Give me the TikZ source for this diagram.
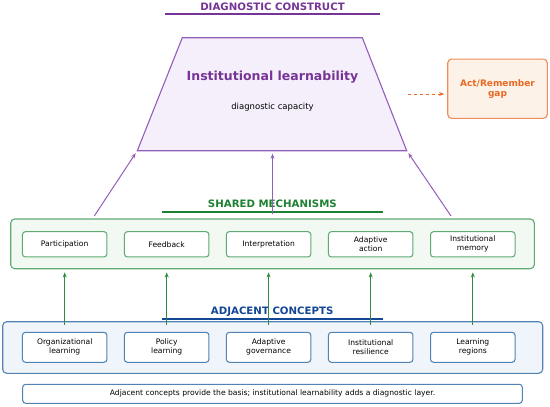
\documentclass[tikz,border=0pt]{standalone}
\usepackage{fontspec}
\setmainfont{DejaVu Sans}
\usetikzlibrary{arrows.meta,calc}
\definecolor{pur}{RGB}{118,52,150}
\definecolor{purline}{RGB}{145,95,185}
\definecolor{purfill}{RGB}{245,238,251}
\definecolor{grn}{RGB}{30,128,50}
\definecolor{grnline}{RGB}{95,170,115}
\definecolor{grnfill}{RGB}{241,249,242}
\definecolor{grnarrow}{RGB}{45,140,65}
\definecolor{blu}{RGB}{20,70,150}
\definecolor{bluline}{RGB}{80,130,180}
\definecolor{blufill}{RGB}{240,245,251}
\definecolor{org}{RGB}{232,105,35}
\definecolor{orgline}{RGB}{240,140,90}
\definecolor{orgfill}{RGB}{253,242,232}
\begin{document}
\begin{tikzpicture}[x=1pt,y=-1pt,
  titletext/.style={font=\fontsize{10.2}{12}\selectfont\bfseries, inner sep=0pt},
  uline/.style={line width=1.6pt},
  panel/.style={draw, rounded corners=4pt, line width=1.1pt, inner sep=0pt},
  item/.style={draw, rounded corners=3pt, minimum width=84.5pt, fill=white, align=center,
    font=\fontsize{7.6}{9}\selectfont, line width=1.05pt, inner sep=0pt},
  mech/.style={item, draw=grnline, minimum height=25.3pt},
  adj/.style={item, draw=bluline, minimum height=30pt},
  tip/.style={-{Stealth[length=5pt,width=4pt]}},
  parrow/.style={tip, draw=purline, line width=1pt, shorten >=3pt},
  garrow/.style={tip, draw=grnarrow, line width=1pt},
]
\useasboundingbox (0,0) rectangle (550,407);

% ---- Diagnostic construct
\node[titletext, text=pur] (t1) at (272.5,6.5) {DIAGNOSTIC CONSTRUCT};
\draw[uline, draw=pur] (165,13.7) -- (380,13.7);

\coordinate (tl) at (182.3,37.7);
\coordinate (tr) at (362.3,37.7);
\coordinate (br) at (406.7,150.7);
\coordinate (bl) at (137.3,150.7);
\coordinate (bm) at (272.5,150.7);
\draw[draw=purline, fill=purfill, line width=1.1pt] (tl) -- (tr) -- (br) -- (bl) -- cycle;
\node[font=\fontsize{12.5}{15}\selectfont\bfseries, text=pur] (il) at (272.5,76.7) {Institutional learnability};
\node[font=\fontsize{8.5}{10}\selectfont] (dc) at (272.5,107) {diagnostic capacity};

\node[draw=orgline, fill=orgfill, rounded corners=4pt, line width=1.1pt, minimum width=99.6pt,
  minimum height=59.3pt, align=center, text=org, font=\fontsize{9}{10}\selectfont\bfseries,
  inner sep=0pt] (gap) at (497.5,88.7) {Act/Remember\\gap};
\coordinate (d0) at (408,94);
\draw[tip, draw=org, dashed, line width=1pt, shorten >=3pt] (d0) -- (d0 -| gap.west);

% ---- Shared mechanisms
\node[titletext, text=grn] (t2) at (272.4,204) {SHARED MECHANISMS};
\draw[uline, draw=grn] (162,211.7) -- (383,211.7);
\node[panel, draw=grnline, fill=grnfill, minimum width=523.6pt, minimum height=49.7pt] (gp) at (272.5,243.85) {};

\node[mech] (m1) at (64.7,244.3) {Participation};
\node[mech] (m2) at (166.7,244.3) {Feedback};
\node[mech] (m3) at (268.6,244.3) {Interpretation};
\node[mech] (m4) at (370.7,244.3) {Adaptive\\action};
\node[mech] (m5) at (472.8,244.3) {Institutional\\memory};

% purple arrows
\coordinate (p1) at (94.3,216);
\coordinate (p2) at (272.5,214);
\coordinate (p3) at (451,216);
\draw[parrow] (p1) -- (bl);
\draw[parrow] (p2) -- (bm);
\draw[parrow] (p3) -- (br);

% ---- Adjacent concepts
\node[titletext, text=blu] (t3) at (272.2,311.7) {ADJACENT CONCEPTS};
\draw[uline, draw=blu] (162,318.7) -- (383,318.7);
\node[panel, draw=bluline, fill=blufill, minimum width=540pt, minimum height=51.6pt] (bp) at (272.7,347.5) {};

\node[adj] (a1) at (64.7,347.3) {Organizational\\learning};
\node[adj] (a2) at (166.7,347.3) {Policy\\learning};
\node[adj] (a3) at (268.6,347.3) {Adaptive\\governance};
\node[adj] (a4) at (370.7,347.3) {Institutional\\resilience};
\node[adj] (a5) at (472.8,347.3) {Learning\\regions};

% green arrows
\foreach \i in {1,...,5}{
  \draw[garrow] ($(a\i.north)+(0,-7)$) -- ($(m\i.south)+(0,15)$);
}

% ---- Bottom note
\node[draw=bluline, rounded corners=3pt, line width=1.05pt, fill=white, minimum width=499.6pt,
  minimum height=19pt, inner sep=0pt, font=\fontsize{7.6}{9}\selectfont] (note) at (272.5,393.8)
  {Adjacent concepts provide the basis; institutional learnability adds a diagnostic layer.};
\end{tikzpicture}
\end{document}
